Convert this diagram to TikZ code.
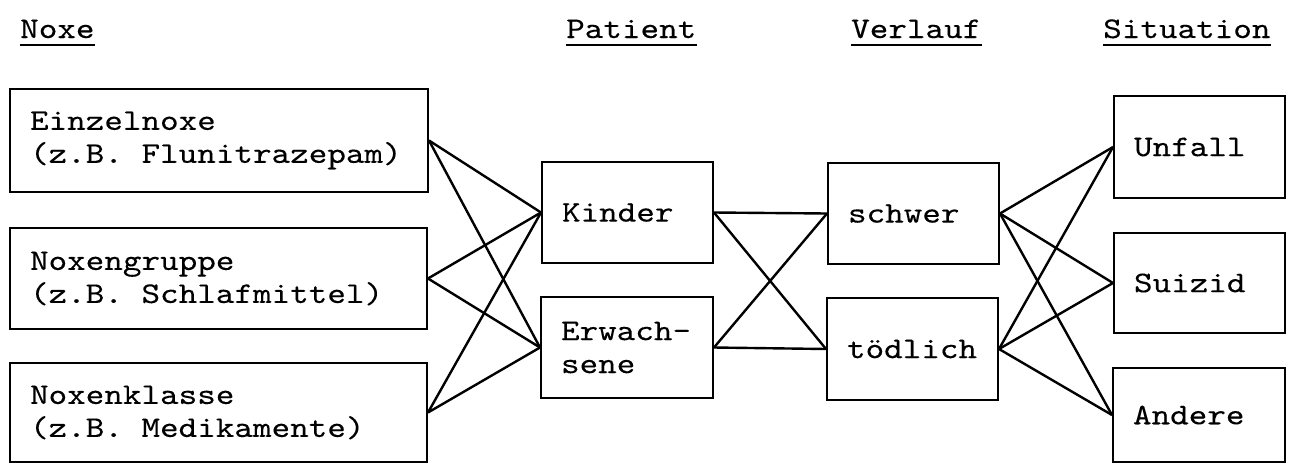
\documentclass[tikz,border=0pt]{standalone}
\usepackage{fontspec}
\newfontfamily\courtt[FakeStretch=1.18,FakeBold=0.2]{lmmono10-regular.otf}
\newcommand\monosp{\hspace*{18.6pt}}
\begin{document}
\begin{tikzpicture}[x=1pt,y=-1pt,
  every node/.style={font=\courtt\fontsize{30}{33}\selectfont},
  box/.style={draw,line width=2pt,rectangle,align=left,inner xsep=20pt,inner ysep=0pt},
  hdr/.style={anchor=base west,inner sep=0pt},
  uline/.style={line width=2.6pt},
  link/.style={line width=2.4pt}]
\useasboundingbox (0,0) rectangle (1296,464);
% headers
\node[hdr] (hN) at (20,38) {Noxe};
\node[hdr] (hP) at (566,38) {Patient};
\node[hdr] (hV) at (851,38) {Verlauf};
\node[hdr] (hS) at (1103,38) {Situation};
\foreach \h in {hN,hP,hV,hS}{
  \draw[uline] ([yshift=-7pt]\h.base west) -- ([yshift=-7pt]\h.base east);
}
% Noxe column
\node[box,text width=378pt,minimum height=103pt] (ein) at (219,140.5) {Einzelnoxe\\(z.B.\monosp Flunitrazepam)};
\node[box,text width=377pt,minimum height=101pt] (grp) at (218.5,278.5) {Noxengruppe\\(z.B.\monosp Schlafmittel)};
\node[box,text width=377pt,minimum height=99pt] (kla) at (218.5,412.5) {Noxenklasse\\(z.B.\monosp Medikamente)};
% Patient column
\node[box,text width=131pt,minimum height=101pt] (kin) at (627.5,212.5) {Kinder};
\node[box,text width=132pt,minimum height=101pt] (erw) at (627,347.5) {Erwach-\\sene};
% Verlauf column
\node[box,text width=131pt,minimum height=101pt] (sch) at (913.5,213.5) {schwer};
\node[box,text width=131pt,minimum height=102pt] (tod) at (912.5,349) {tödlich};
% Situation column
\node[box,text width=131pt,minimum height=102pt] (unf) at (1199.5,147) {Unfall};
\node[box,text width=131pt,minimum height=100pt] (sui) at (1199.5,283) {Suizid};
\node[box,text width=132pt,minimum height=94pt] (and) at (1199,415) {Andere};
% links
\foreach \a in {ein,grp,kla}{
  \foreach \b in {kin,erw}{
    \draw[link] (\a.east) -- (\b.west);
  }
}
\foreach \a in {kin,erw}{
  \foreach \b in {sch,tod}{
    \draw[link] (\a.east) -- (\b.west);
  }
}
\foreach \a in {sch,tod}{
  \foreach \b in {unf,sui,and}{
    \draw[link] (\a.east) -- (\b.west);
  }
}
\end{tikzpicture}
\end{document}
